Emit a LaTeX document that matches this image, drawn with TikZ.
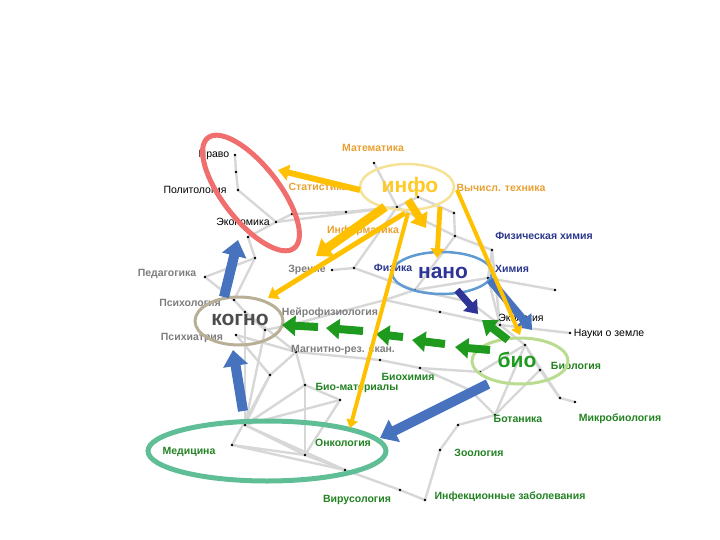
\documentclass[tikz,border=0pt]{standalone}
\usepackage{fontspec}
\setmainfont{Liberation Sans}
\usetikzlibrary{arrows.meta, shapes.geometric}
\definecolor{netgray}{RGB}{215, 215, 215}
\definecolor{arrowyellow}{RGB}{255, 192, 0}
\definecolor{arrowblue}{RGB}{70, 114, 190}
\definecolor{arrownavy}{RGB}{46, 52, 150}
\definecolor{arrowgreen}{RGB}{30, 155, 30}
\definecolor{txtorange}{RGB}{232, 160, 50}
\definecolor{txtnavy}{RGB}{43, 55, 140}
\definecolor{txtgreen}{RGB}{34, 130, 34}
\definecolor{txtgray}{RGB}{125, 125, 125}
\definecolor{ringred}{RGB}{240, 110, 110}
\definecolor{ringyellow}{RGB}{246, 226, 150}
\definecolor{ringblue}{RGB}{95, 155, 210}
\definecolor{ringtan}{RGB}{185, 175, 150}
\definecolor{ringgreen}{RGB}{185, 220, 145}
\definecolor{ringteal}{RGB}{95, 190, 150}

\begin{document}
\begin{tikzpicture}[x=1pt, y=-1pt,
  net/.style={draw=netgray, line width=2.4pt, line cap=round},
  lbl/.style={font=\fontsize{10.5}{12}\selectfont\bfseries, inner sep=0pt},
  lblplain/.style={font=\fontsize{10.5}{12}\selectfont, inner sep=0pt, text=black},
  big/.style={font=\fontsize{21}{24}\selectfont\bfseries, inner sep=0pt},
  ring/.style={draw, ellipse, inner sep=0pt},
  fatarrow/.style={line width=#1, -{Triangle[length=3pt 1.3, width=3pt 2.1]}}]
  \useasboundingbox (0,0) rectangle (720,540);

  % узлы сети
  \coordinate (a1) at (235,155);  \coordinate (a2) at (236,172);
  \coordinate (a3) at (238,190);  \coordinate (a4) at (276,222);
  \coordinate (a5) at (292,214);  \coordinate (a6) at (346,212);
  \coordinate (a7) at (374,163);  \coordinate (a8) at (397,207);
  \coordinate (a9) at (418,197);  \coordinate (a10) at (454,213);
  \coordinate (a11) at (455,236); \coordinate (a12) at (492,250);
  \coordinate (a13) at (488,278); \coordinate (a14) at (555,290);
  \coordinate (a15) at (415,290); \coordinate (a16) at (332,270);
  \coordinate (a17) at (354,268); \coordinate (a18) at (255,258);
  \coordinate (a19) at (248,237); \coordinate (a20) at (205,277);
  \coordinate (a21) at (234,300); \coordinate (a22) at (245,312);
  \coordinate (a23) at (236,335); \coordinate (a24) at (265,330);
  \coordinate (a25) at (290,325); \coordinate (a26) at (385,300);
  \coordinate (a27) at (440,312); \coordinate (a28) at (500,325);
  \coordinate (a29) at (570,333); \coordinate (a30) at (525,345);
  \coordinate (a31) at (540,370); \coordinate (a32) at (560,398);
  \coordinate (a33) at (575,402); \coordinate (a34) at (495,415);
  \coordinate (a35) at (470,390); \coordinate (a36) at (420,368);
  \coordinate (a37) at (480,372); \coordinate (a38) at (296,352);
  \coordinate (a39) at (305,385); \coordinate (a40) at (305,455);
  \coordinate (a41) at (245,425); \coordinate (a42) at (232,445);
  \coordinate (a43) at (345,470); \coordinate (a44) at (400,490);
  \coordinate (a45) at (425,500); \coordinate (a46) at (440,450);
  \coordinate (a47) at (458,425); \coordinate (a48) at (270,375);
  \coordinate (a49) at (340,400); \coordinate (a50) at (380,360);
  \coordinate (a51) at (470,302);

  % связи
  \foreach \p/\q in {a1/a2, a2/a3, a3/a4, a4/a5, a5/a6, a6/a8, a4/a8, a7/a8,
      a8/a9, a9/a10, a8/a11, a10/a11, a11/a12, a12/a13, a13/a14, a11/a15,
      a15/a13, a16/a17, a17/a15, a8/a17, a4/a19, a19/a18, a18/a20, a20/a21,
      a18/a21, a21/a22, a22/a24, a24/a25, a25/a26, a26/a27, a27/a28, a28/a29,
      a28/a30, a15/a26, a15/a51, a51/a28, a13/a28, a12/a28, a30/a31, a31/a32,
      a32/a33, a30/a34, a31/a34, a34/a35, a35/a36, a36/a37, a37/a30, a22/a38,
      a23/a38, a38/a39, a38/a48, a48/a41, a39/a40, a41/a40, a42/a40, a41/a43,
      a40/a43, a43/a44, a44/a45, a45/a46, a46/a47, a47/a34, a39/a49, a49/a40,
      a38/a50, a50/a36, a22/a41, a24/a41, a48/a42, a41/a39, a42/a43, a23/a48,
      a41/a49, a30/a32}
    \draw[net] (\p) -- (\q);
  \foreach \p in {a1,a2,a3,a4,a5,a6,a7,a8,a9,a10,a11,a12,a13,a14,a15,a16,a17,
      a18,a19,a20,a21,a22,a23,a24,a25,a26,a27,a28,a29,a30,a31,a32,a33,a34,a35,
      a36,a37,a38,a39,a40,a41,a42,a43,a44,a45,a46,a47,a48,a49,a50,a51}
    \fill (\p) circle [radius=1.4];

  % подписи
  \node[lblplain] (pravo) at (214,155) {Право};
  \node[lblplain] (polit) at (195,190) {Политология};
  \node[lblplain] (econ) at (243,222) {Экономика};
  \node[lbl, text=txtorange] (math) at (373,148) {Математика};
  \node[lbl, text=txtorange] (stat) at (318,187) {Статистика};
  \node[lbl, text=txtorange] (comp) at (501,188) {Вычисл. техника};
  \node[lbl, text=txtorange] (inform) at (363,231) {Информатика};
  \node[lbl, text=txtnavy] (physchem) at (544,236) {Физическая химия};
  \node[lbl, text=txtgray] (pedag) at (167,274) {Педагогика};
  \node[lbl, text=txtgray] (vision) at (307,270) {Зрение};
  \node[lbl, text=txtnavy] (phys) at (393,268) {Физика};
  \node[lbl, text=txtnavy] (chem) at (512,269) {Химия};
  \node[lbl, text=txtgray] (psychol) at (190,303) {Психология};
  \node[lbl, text=txtgray] (neuro) at (330,313) {Нейрофизиология};
  \node[lbl, text=txtgray] (psychiat) at (192,338) {Психиатрия};
  \node[lbl, text=txtgray] (mri) at (343,350) {Магнитно-рез. скан.};
  \node[lblplain] (ecol) at (521,318) {Экология};
  \node[lblplain] (earth) at (609,334) {Науки о земле};
  \node[lbl, text=txtgreen] (biol) at (576,366) {Биология};
  \node[lbl, text=txtgreen] (biochem) at (408,377) {Биохимия};
  \node[lbl, text=txtgreen] (biomat) at (357,388) {Био-материалы};
  \node[lbl, text=txtgreen] (botan) at (518,419) {Ботаника};
  \node[lbl, text=txtgreen] (microb) at (620,419) {Микробиология};
  \node[lbl, text=txtgreen] (medic) at (189,452) {Медицина};
  \node[lbl, text=txtgreen] (oncol) at (343,443) {Онкология};
  \node[lbl, text=txtgreen] (zool) at (479,453) {Зоология};
  \node[lbl, text=txtgreen] (virus) at (357,500) {Вирусология};
  \node[lbl, text=txtgreen] (infect) at (510,497) {Инфекционные заболевания};

  % области
  \node[ring, draw=ringred, line width=5pt, minimum width=140pt, minimum height=56pt,
    rotate=-52] (soc) at (251,193) {};
  \node[ring, draw=ringyellow, line width=2.5pt, minimum width=94pt, minimum height=46pt]
    (info) at (407,187) {};
  \node[ring, draw=ringblue, line width=2.5pt, minimum width=100pt, minimum height=42pt]
    (nano) at (442,273) {};
  \node[ring, draw=ringtan, line width=3pt, minimum width=88pt, minimum height=48pt]
    (cogno) at (239,321) {};
  \node[ring, draw=ringgreen, line width=3pt, minimum width=96pt, minimum height=46pt]
    (bio) at (520,361) {};
  \node[ring, draw=ringteal, line width=5pt, minimum width=238pt, minimum height=60pt]
    (med) at (267,451) {};

  \node[big, text=arrowyellow!85!white] (t-info) at (410,187) {инфо};
  \node[big, text=arrownavy] (t-nano) at (443,273) {нано};
  \node[big, text=black!70] (t-cogno) at (240,320) {когно};
  \node[big, text=arrowgreen] (t-bio) at (517,360) {био};

  % концы стрелок
  \coordinate (y1s) at (360,190); \coordinate (y1e) at (278,170);
  \coordinate (y2s) at (385,207); \coordinate (y2e) at (316,256);
  \coordinate (y3s) at (405,213); \coordinate (y3e) at (268,298);
  \coordinate (y4s) at (408,200); \coordinate (y4e) at (426,228);
  \coordinate (y5s) at (440,207); \coordinate (y5e) at (437,258);
  \coordinate (y6s) at (408,213); \coordinate (y6e) at (350,428);
  \coordinate (y7s) at (457,190); \coordinate (y7e) at (520,335);
  \coordinate (b1s) at (224,297); \coordinate (b1e) at (238,240);
  \coordinate (b2s) at (243,411); \coordinate (b2e) at (233,350);
  \coordinate (b3s) at (488,384); \coordinate (b3e) at (380,438);
  \coordinate (b4s) at (490,280); \coordinate (b4e) at (532,330);
  \coordinate (n1s) at (457,290); \coordinate (n1e) at (478,314);
  \coordinate (g1s) at (318,327); \coordinate (g1e) at (282,325);
  \coordinate (g2s) at (363,331); \coordinate (g2e) at (326,328);
  \coordinate (g3s) at (403,337); \coordinate (g3e) at (376,334);
  \coordinate (g4s) at (445,344); \coordinate (g4e) at (412,340);
  \coordinate (g5s) at (490,350); \coordinate (g5e) at (455,347);
  \coordinate (g6s) at (508,340); \coordinate (g6e) at (482,320);

  % синие стрелки
  \draw[fatarrow=10pt, draw=arrowblue] (b1s) -- (b1e);
  \draw[fatarrow=10pt, draw=arrowblue] (b2s) -- (b2e);
  \draw[fatarrow=10pt, draw=arrowblue] (b3s) -- (b3e);
  \draw[fatarrow=8pt, draw=arrowblue] (b4s) -- (b4e);
  \draw[fatarrow=7pt, draw=arrownavy] (n1s) -- (n1e);

  % зелёные стрелки
  \foreach \g in {g1,g2,g3,g4,g5,g6}
    \draw[fatarrow=8pt, draw=arrowgreen] (\g s) -- (\g e);

  % жёлтые стрелки
  \draw[fatarrow=6pt, draw=arrowyellow] (y1s) -- (y1e);
  \draw[fatarrow=9pt, draw=arrowyellow] (y2s) -- (y2e);
  \draw[fatarrow=5pt, draw=arrowyellow] (y3s) -- (y3e);
  \draw[fatarrow=8pt, draw=arrowyellow] (y4s) -- (y4e);
  \draw[fatarrow=5pt, draw=arrowyellow] (y5s) -- (y5e);
  \draw[fatarrow=4pt, draw=arrowyellow] (y6s) -- (y6e);
  \draw[fatarrow=4pt, draw=arrowyellow] (y7s) -- (y7e);
\end{tikzpicture}
\end{document}
